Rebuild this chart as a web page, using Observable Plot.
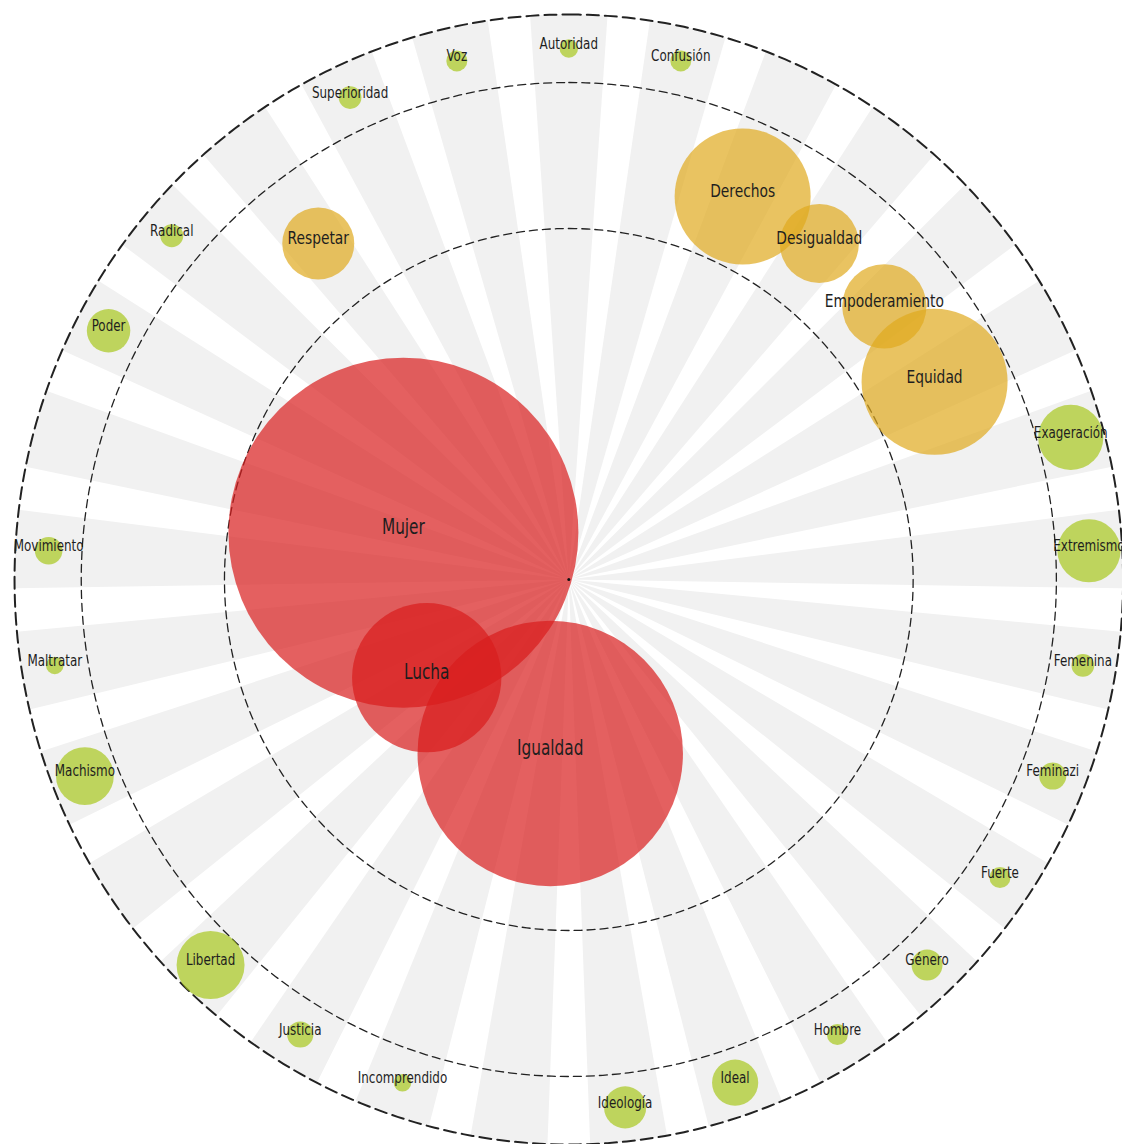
<!DOCTYPE html>
<html>
<head>
<meta charset="utf-8">
<script src="https://cdn.jsdelivr.net/npm/d3@7"></script>
<script src="https://cdn.jsdelivr.net/npm/@observablehq/plot@0.6"></script>
<style>
  html, body { margin: 0; padding: 0; background: #fff; }
  #chart svg { display: block; }
</style>
</head>
<body>
<div id="chart"></div>
<script>
// Words, clockwise from the top, in alphabetical order
const words = ["Autoridad","Confusión","Derechos","Desigualdad","Empoderamiento","Equidad","Exageración","Extremismo","Femenina","Feminazi","Fuerte","Género","Hombre","Ideal","Ideología","Igualdad","Incomprendido","Justicia","Libertad","Lucha","Machismo","Maltratar","Movimiento","Mujer","Poder","Radical","Respetar","Superioridad","Voz"];
// Ring each word belongs to
const groups = ["externo","externo","medio","medio","medio","medio","externo","externo","externo","externo","externo","externo","externo","externo","externo","interno","externo","externo","externo","interno","externo","externo","externo","interno","externo","externo","medio","externo","externo"];
// Relative weight of each word (bubble area)
const values = [0.28,0.36,15.1,5.1,5.8,17.4,3.47,3.26,0.42,0.6,0.36,0.78,0.36,1.74,1.45,57.5,0.25,0.56,3.77,18.2,2.73,0.25,0.62,100,1.54,0.43,4.23,0.42,0.36];

const ringOrder = ["interno","medio","externo"];
const ringColors = ["#d81c1c","#dfa91e","#a8c81e"];

// layout constants
const ringRadius = {interno: 175, medio: 422, externo: 531};
const boundaries = [351, 497, 565];
const N = words.length;
const step = 360 / N;
const rad = a => a * Math.PI / 180;

const data = words.map((w, i) => {
  const a = rad(i * step), R = ringRadius[groups[i]];
  return {word: w, group: groups[i], value: values[i], x: R * Math.sin(a), y: -R * Math.cos(a)};
});

// background wedges
const wedgeHalf = 4;
const wedges = [];
words.forEach((w, i) => {
  const a0 = i * step - wedgeHalf, a1 = i * step + wedgeHalf;
  wedges.push({k: i, x: 0, y: 0});
  for (let j = 0; j <= 16; j++) {
    const a = rad(a0 + (a1 - a0) * j / 16);
    wedges.push({k: i, x: boundaries[2] * Math.sin(a), y: -boundaries[2] * Math.cos(a)});
  }
  wedges.push({k: i, x: 0, y: 0});
});

const ring = R => d3.range(0, 361, 1).map(t => ({x: R * Math.sin(rad(t)), y: -R * Math.cos(rad(t))}));

const font = "'Liberation Sans Narrow', 'Arial Narrow', 'DejaVu Sans Condensed', sans-serif";
const sizes = {interno: 20.5, medio: 18.5, externo: 16};

const chart = Plot.plot({
  width: 1122,
  height: 1144,
  margin: 0,
  x: {domain: [-579.3, 564.4], range: [0, 1122], axis: null},
  y: {domain: [-579, 565], range: [0, 1144], axis: null},
  r: {type: "sqrt", domain: [0, 100], range: [0, 175]},
  color: {domain: ringOrder, range: ringColors},
  style: {fontFamily: font, background: "#fff"},
  marks: [
    Plot.line(wedges, {x: "x", y: "y", z: "k", fill: "#f1f1f1", stroke: "none", curve: "linear"}),
    Plot.line(ring(boundaries[0]), {x: "x", y: "y", stroke: "#222", strokeWidth: 1.3, strokeDasharray: "8,5"}),
    Plot.line(ring(boundaries[1]), {x: "x", y: "y", stroke: "#222", strokeWidth: 1.3, strokeDasharray: "8,5"}),
    Plot.line(ring(boundaries[2]), {x: "x", y: "y", stroke: "#222", strokeWidth: 2, strokeDasharray: "12,6"}),
    Plot.dot(data, {x: "x", y: "y", r: "value", fill: "group", fillOpacity: 0.7, stroke: "none"}),
    Plot.dot([{x: 0, y: 0}], {x: "x", y: "y", r: 1.5, fill: "#111", stroke: "none"}),
    ...ringOrder.map(g => Plot.text(data.filter(d => d.group === g), {
      x: "x", y: "y", text: "word", dy: -5, fontSize: sizes[g], fill: "#1e1e1e", fontFamily: font, lineAnchor: "middle"
    }))
  ]
});

// condense the labels horizontally (narrow typeface look)
const squeeze = 0.83;
chart.querySelectorAll("text").forEach(t => {
  const tr = t.getAttribute("transform");
  if (tr) {
    t.setAttribute("transform", tr + ` scale(${squeeze},1)`);
  } else {
    const x = +t.getAttribute("x") || 0, y = +t.getAttribute("y") || 0;
    t.removeAttribute("x"); t.removeAttribute("y");
    t.setAttribute("transform", `translate(${x},${y}) scale(${squeeze},1)`);
  }
});

document.getElementById("chart").appendChild(chart);
</script>
</body>
</html>
